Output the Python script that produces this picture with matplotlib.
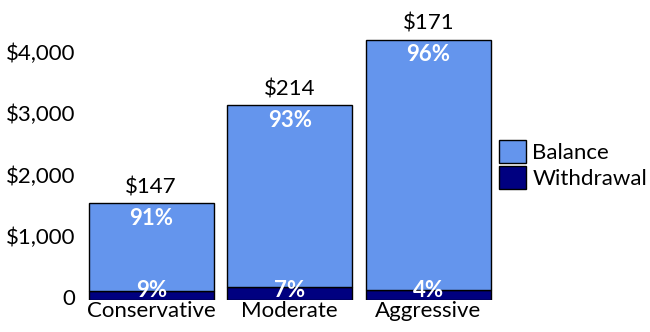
import numpy as np
import matplotlib.pyplot as plt
import matplotlib.transforms as mtransforms
from matplotlib.ticker import FuncFormatter

plt.rcParams['font.family'] = ['Lato', 'DejaVu Sans']

categories = ['Conservative', 'Moderate', 'Aggressive']
withdrawal = [147, 214, 171]
balance = [1430, 2962, 4082]

withdrawal = np.array(withdrawal)
balance = np.array(balance)
total = withdrawal + balance
pct_w = np.round(withdrawal / total * 100).astype(int)
pct_b = 100 - pct_w

fs = 16

fig = plt.figure(figsize=(6.5, 3.32), dpi=100)
ax = fig.add_axes([82 / 650, 32 / 332, 415.5 / 650, 300 / 332])

x = np.arange(len(categories))
ax.bar(x, withdrawal, width=0.9, color='#000080', edgecolor='black', linewidth=1, label='Withdrawal')
ax.bar(x, balance, bottom=withdrawal, width=0.9, color='#6495ED', edgecolor='black', linewidth=1, label='Balance')

for i in range(len(categories)):
    ax.annotate(f'${withdrawal[i]}', (x[i], total[i]), xytext=(0, 4), textcoords='offset points',
                ha='center', va='bottom', fontsize=fs, color='black', annotation_clip=False)
    ax.annotate(f'{pct_b[i]}%', (x[i], total[i]), xytext=(0, -3), textcoords='offset points',
                ha='center', va='top', fontsize=fs, color='white', fontweight='bold')
    ax.annotate(f'{pct_w[i]}%', (x[i], 0), xytext=(0, -1), textcoords='offset points',
                ha='center', va='bottom', fontsize=fs, color='white', fontweight='bold')

ax.set_xlim(-0.5, 2.5)
ax.set_ylim(0, 4898)
ax.set_xticks(x)
ax.set_xticklabels(categories, fontsize=fs)
ax.set_yticks([0, 1000, 2000, 3000, 4000])
ax.yaxis.set_major_formatter(FuncFormatter(lambda v, p: '0' if v == 0 else f'${v:,.0f}'))
ax.tick_params(axis='y', labelsize=fs, length=0, pad=5)
ax.tick_params(axis='x', length=0, pad=1)
for s in ax.spines.values():
    s.set_visible(False)

# nudge the y labels up a little
shift = mtransforms.ScaledTranslation(0, 3 / 100, fig.dpi_scale_trans)
for lab in ax.get_yticklabels():
    lab.set_transform(lab.get_transform() + shift)

handles, labels = ax.get_legend_handles_labels()
fig.legend(handles[::-1], labels[::-1], loc='upper left', bbox_to_anchor=(499 / 650, 1 - 140 / 332),
           frameon=False, fontsize=fs, handlelength=1.2, handleheight=1.2, handletextpad=0.3,
           labelspacing=0.15, borderaxespad=0, borderpad=0)

fig.savefig('out.png')
